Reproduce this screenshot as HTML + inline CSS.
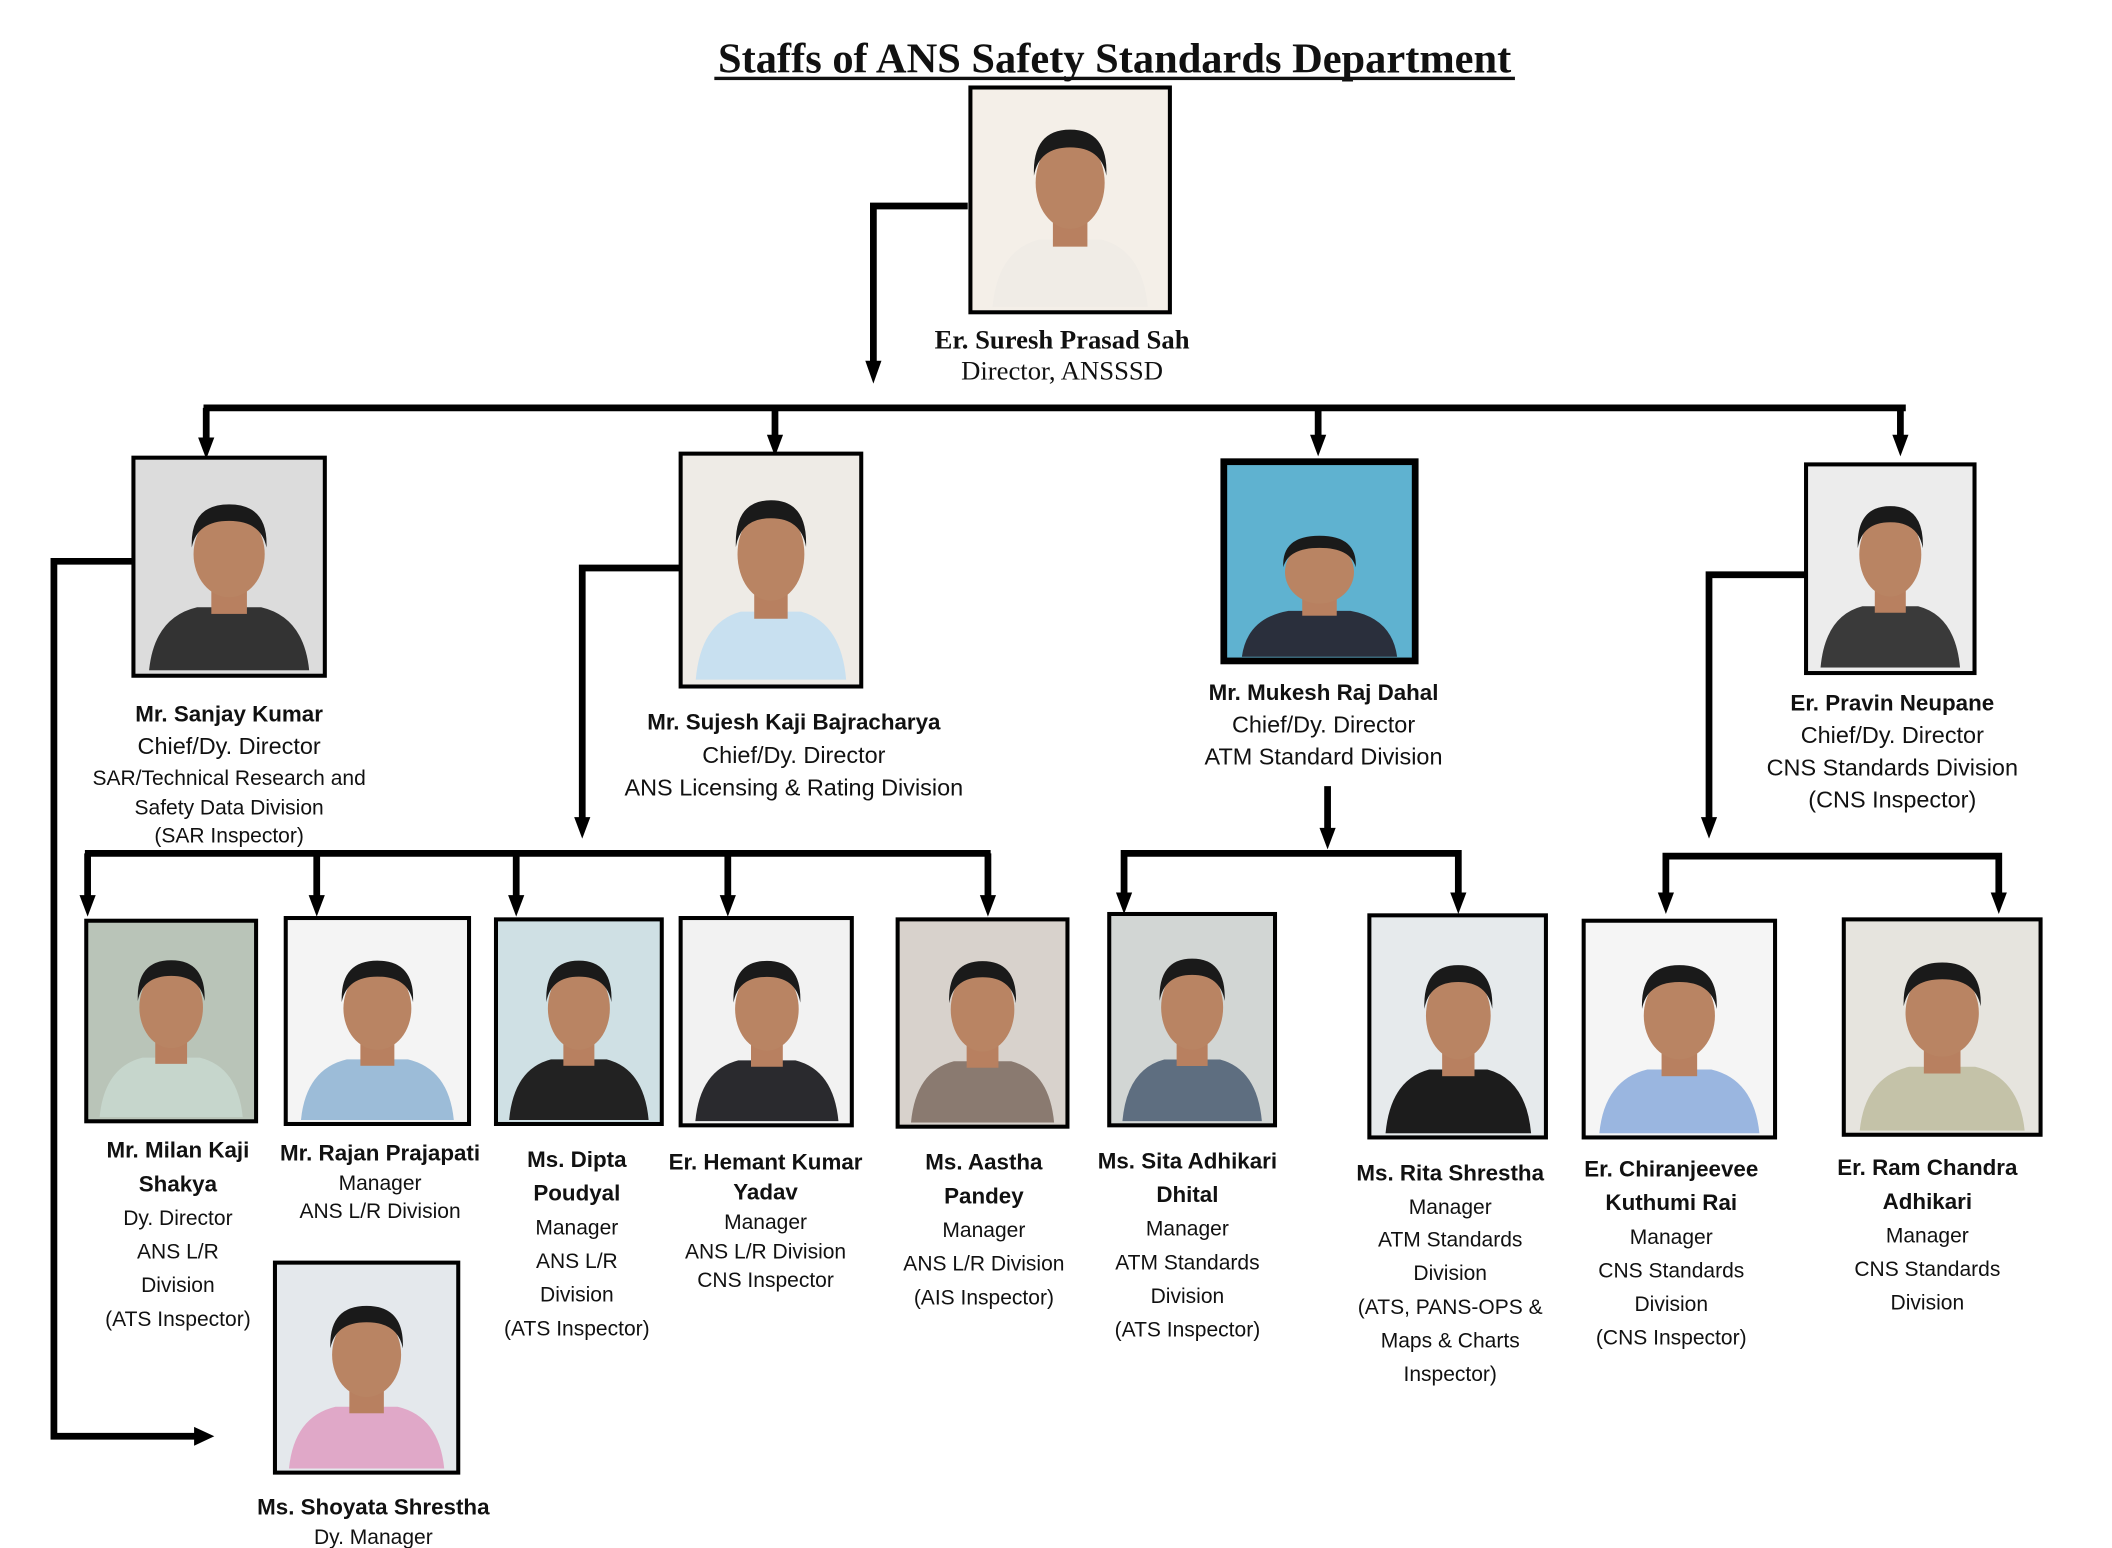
<!DOCTYPE html>
<html><head><meta charset="utf-8"><style>
html,body{margin:0;padding:0;background:#fff;width:2112px;height:1548px;overflow:hidden}
svg{display:block}
.b{font-family:"Liberation Sans",sans-serif;font-weight:bold;font-size:16.6px;fill:#111}
.n{font-family:"Liberation Sans",sans-serif;font-size:17.4px;fill:#111}
.s{font-family:"Liberation Sans",sans-serif;font-size:15.6px;fill:#111}
.sb{font-family:"Liberation Serif",serif;font-weight:bold;font-size:19.8px;fill:#111}
.sn{font-family:"Liberation Serif",serif;font-size:19.8px;fill:#111}
</style></head><body>
<svg width="2112" height="1548" viewBox="0 0 1567 1150" preserveAspectRatio="none" xmlns="http://www.w3.org/2000/svg">
<defs>
<symbol id="face" viewBox="0 0 100 120" preserveAspectRatio="none">
<path d="M5 120 Q8 88 32 82 L68 82 Q92 88 95 120 Z" fill="currentColor"/>
<rect x="40" y="66" width="20" height="20" fill="#b88060"/>
<ellipse cx="50" cy="50" rx="20" ry="26" fill="#b98463"/>
<path d="M29 46 Q28 20 50 20 Q72 20 71 46 Q68 30 50 30 Q32 30 29 46 Z" fill="#1a1a1a"/>
</symbol>
</defs>

<text x="827" y="54" text-anchor="middle" font-family="Liberation Serif,serif" font-weight="bold" font-size="31.5" fill="#111">Staffs of ANS Safety Standards Department</text>
<rect x="530" y="57" width="594" height="2.5" fill="#111"/>

<g fill="none" stroke="#000" stroke-width="5">
<polyline points="718,153 648,153 648,272"/>
<line x1="151" y1="303" x2="1414" y2="303"/>
<line x1="153" y1="303" x2="153" y2="328"/>
<line x1="575" y1="303" x2="575" y2="326"/>
<line x1="978" y1="303" x2="978" y2="326"/>
<line x1="1410" y1="303" x2="1410" y2="326"/>
<polyline points="99,417 40,417 40,1067 146,1067"/>
<polyline points="505,422 432,422 432,610"/>
<line x1="63" y1="634" x2="735" y2="634"/>
<line x1="65" y1="634" x2="65" y2="668"/>
<line x1="235" y1="634" x2="235" y2="668"/>
<line x1="383" y1="634" x2="383" y2="668"/>
<line x1="540" y1="634" x2="540" y2="668"/>
<line x1="733" y1="634" x2="733" y2="668"/>
<line x1="985" y1="584" x2="985" y2="618"/>
<polyline points="834,666 834,634 1082,634 1082,666"/>
<polyline points="1340,427 1268,427 1268,610"/>
<polyline points="1236,666 1236,636 1483,636 1483,666"/>
</g>
<g fill="#000">
<path d="M642 268 L654 268 L648 285 Z"/>
<path d="M147 325 L159 325 L153 341 Z"/>
<path d="M569 323 L581 323 L575 339 Z"/>
<path d="M972 323 L984 323 L978 339 Z"/>
<path d="M1404 323 L1416 323 L1410 339 Z"/>
<path d="M144 1060 L159 1067 L144 1074 Z"/>
<path d="M426 607 L438 607 L432 623 Z"/>
<path d="M979 615 L991 615 L985 631 Z"/>
<path d="M1262 607 L1274 607 L1268 623 Z"/>
<path d="M59 665 L71 665 L65 681 Z"/>
<path d="M229 665 L241 665 L235 681 Z"/>
<path d="M377 665 L389 665 L383 681 Z"/>
<path d="M534 665 L546 665 L540 681 Z"/>
<path d="M727 665 L739 665 L733 681 Z"/>
<path d="M828 663 L840 663 L834 679 Z"/>
<path d="M1076 663 L1088 663 L1082 679 Z"/>
<path d="M1230 663 L1242 663 L1236 679 Z"/>
<path d="M1477 663 L1489 663 L1483 679 Z"/>
</g>

<g stroke="#000" stroke-width="3">
<rect x="720" y="65" width="148" height="167" fill="#f4efe8"/>
<rect x="99" y="340" width="142" height="162" fill="#dcdcdc"/>
<rect x="505" y="337" width="134" height="173" fill="#eeebe6"/>
<rect x="908" y="343" width="142" height="148" fill="#5fb2d0" stroke-width="5"/>
<rect x="1340" y="345" width="125" height="155" fill="#ececec"/>
<rect x="64" y="684" width="126" height="149" fill="#b9c4b8"/>
<rect x="212" y="682" width="136" height="153" fill="#f4f4f4"/>
<rect x="368" y="683" width="123" height="152" fill="#cfe0e4"/>
<rect x="505" y="682" width="127" height="154" fill="#f2f2f2"/>
<rect x="666" y="683" width="126" height="154" fill="#d8d2cc"/>
<rect x="823" y="679" width="123" height="157" fill="#d2d6d4"/>
<rect x="1016" y="680" width="131" height="165" fill="#e6eaec"/>
<rect x="1175" y="684" width="142" height="161" fill="#f5f5f5"/>
<rect x="1368" y="683" width="146" height="160" fill="#e6e4de"/>
<rect x="204" y="938" width="136" height="156" fill="#e4e8ec"/>
</g>
<use href="#face" x="730" y="70" width="128" height="158" color="#f0ece6"/>
<use href="#face" x="104" y="350" width="132" height="148" color="#333"/>
<use href="#face" x="510" y="345" width="124" height="160" color="#c8e0f0"/>
<use href="#face" x="915" y="380" width="128" height="108" color="#2a2f3c"/>
<use href="#face" x="1345" y="352" width="115" height="144" color="#3a3a3a"/>
<use href="#face" x="68" y="690" width="118" height="140" color="#c6d6cc"/>
<use href="#face" x="217" y="690" width="126" height="142" color="#9cbcd8"/>
<use href="#face" x="372" y="690" width="115" height="142" color="#222"/>
<use href="#face" x="510" y="690" width="118" height="143" color="#2a2a2e"/>
<use href="#face" x="670" y="690" width="118" height="144" color="#8a7a70"/>
<use href="#face" x="827" y="688" width="115" height="145" color="#5e6e80"/>
<use href="#face" x="1022" y="692" width="120" height="150" color="#1c1c1c"/>
<use href="#face" x="1180" y="692" width="132" height="150" color="#9ab6e0"/>
<use href="#face" x="1373" y="690" width="136" height="150" color="#c4c2a8"/>
<use href="#face" x="208" y="946" width="128" height="145" color="#e0a8c8"/>

<text x="788" y="259" text-anchor="middle" class="sb">Er. Suresh Prasad Sah</text>
<text x="788" y="282" text-anchor="middle" class="sn">Director, ANSSSD</text>

<g text-anchor="middle">
<text x="170" y="536" class="b">Mr. Sanjay Kumar</text>
<text x="170" y="560" class="n">Chief/Dy. Director</text>
<text x="170" y="583" class="s">SAR/Technical Research and</text>
<text x="170" y="605" class="s">Safety Data Division</text>
<text x="170" y="626" class="s">(SAR Inspector)</text>

<text x="589" y="542" class="b">Mr. Sujesh Kaji Bajracharya</text>
<text x="589" y="567" class="n">Chief/Dy. Director</text>
<text x="589" y="591" class="n">ANS Licensing &amp; Rating Division</text>

<text x="982" y="520" class="b">Mr. Mukesh Raj Dahal</text>
<text x="982" y="544" class="n">Chief/Dy. Director</text>
<text x="982" y="568" class="n">ATM Standard Division</text>

<text x="1404" y="528" class="b">Er. Pravin Neupane</text>
<text x="1404" y="552" class="n">Chief/Dy. Director</text>
<text x="1404" y="576" class="n">CNS Standards Division</text>
<text x="1404" y="600" class="n">(CNS Inspector)</text>

<text x="132" y="860" class="b">Mr. Milan Kaji</text>
<text x="132" y="885" class="b">Shakya</text>
<text x="132" y="910" class="s">Dy. Director</text>
<text x="132" y="935" class="s">ANS L/R</text>
<text x="132" y="960" class="s">Division</text>
<text x="132" y="985" class="s">(ATS Inspector)</text>

<text x="282" y="862" class="b">Mr. Rajan Prajapati</text>
<text x="282" y="884" class="s">Manager</text>
<text x="282" y="905" class="s">ANS L/R Division</text>

<text x="428" y="867" class="b">Ms. Dipta</text>
<text x="428" y="892" class="b">Poudyal</text>
<text x="428" y="917" class="s">Manager</text>
<text x="428" y="942" class="s">ANS L/R</text>
<text x="428" y="967" class="s">Division</text>
<text x="428" y="992" class="s">(ATS Inspector)</text>

<text x="568" y="869" class="b">Er. Hemant Kumar</text>
<text x="568" y="891" class="b">Yadav</text>
<text x="568" y="913" class="s">Manager</text>
<text x="568" y="935" class="s">ANS L/R Division</text>
<text x="568" y="956" class="s">CNS Inspector</text>

<text x="730" y="869" class="b">Ms. Aastha</text>
<text x="730" y="894" class="b">Pandey</text>
<text x="730" y="919" class="s">Manager</text>
<text x="730" y="944" class="s">ANS L/R Division</text>
<text x="730" y="969" class="s">(AIS Inspector)</text>

<text x="881" y="868" class="b">Ms. Sita Adhikari</text>
<text x="881" y="893" class="b">Dhital</text>
<text x="881" y="918" class="s">Manager</text>
<text x="881" y="943" class="s">ATM Standards</text>
<text x="881" y="968" class="s">Division</text>
<text x="881" y="993" class="s">(ATS Inspector)</text>

<text x="1076" y="877" class="b">Ms. Rita Shrestha</text>
<text x="1076" y="902" class="s">Manager</text>
<text x="1076" y="926" class="s">ATM Standards</text>
<text x="1076" y="951" class="s">Division</text>
<text x="1076" y="976" class="s">(ATS, PANS-OPS &amp;</text>
<text x="1076" y="1001" class="s">Maps &amp; Charts</text>
<text x="1076" y="1026" class="s">Inspector)</text>

<text x="1240" y="874" class="b">Er. Chiranjeevee</text>
<text x="1240" y="899" class="b">Kuthumi Rai</text>
<text x="1240" y="924" class="s">Manager</text>
<text x="1240" y="949" class="s">CNS Standards</text>
<text x="1240" y="974" class="s">Division</text>
<text x="1240" y="999" class="s">(CNS Inspector)</text>

<text x="1430" y="873" class="b">Er. Ram Chandra</text>
<text x="1430" y="898" class="b">Adhikari</text>
<text x="1430" y="923" class="s">Manager</text>
<text x="1430" y="948" class="s">CNS Standards</text>
<text x="1430" y="973" class="s">Division</text>

<text x="277" y="1125" class="b">Ms. Shoyata Shrestha</text>
<text x="277" y="1147" class="s">Dy. Manager</text>
</g>
</svg>
</body></html>
